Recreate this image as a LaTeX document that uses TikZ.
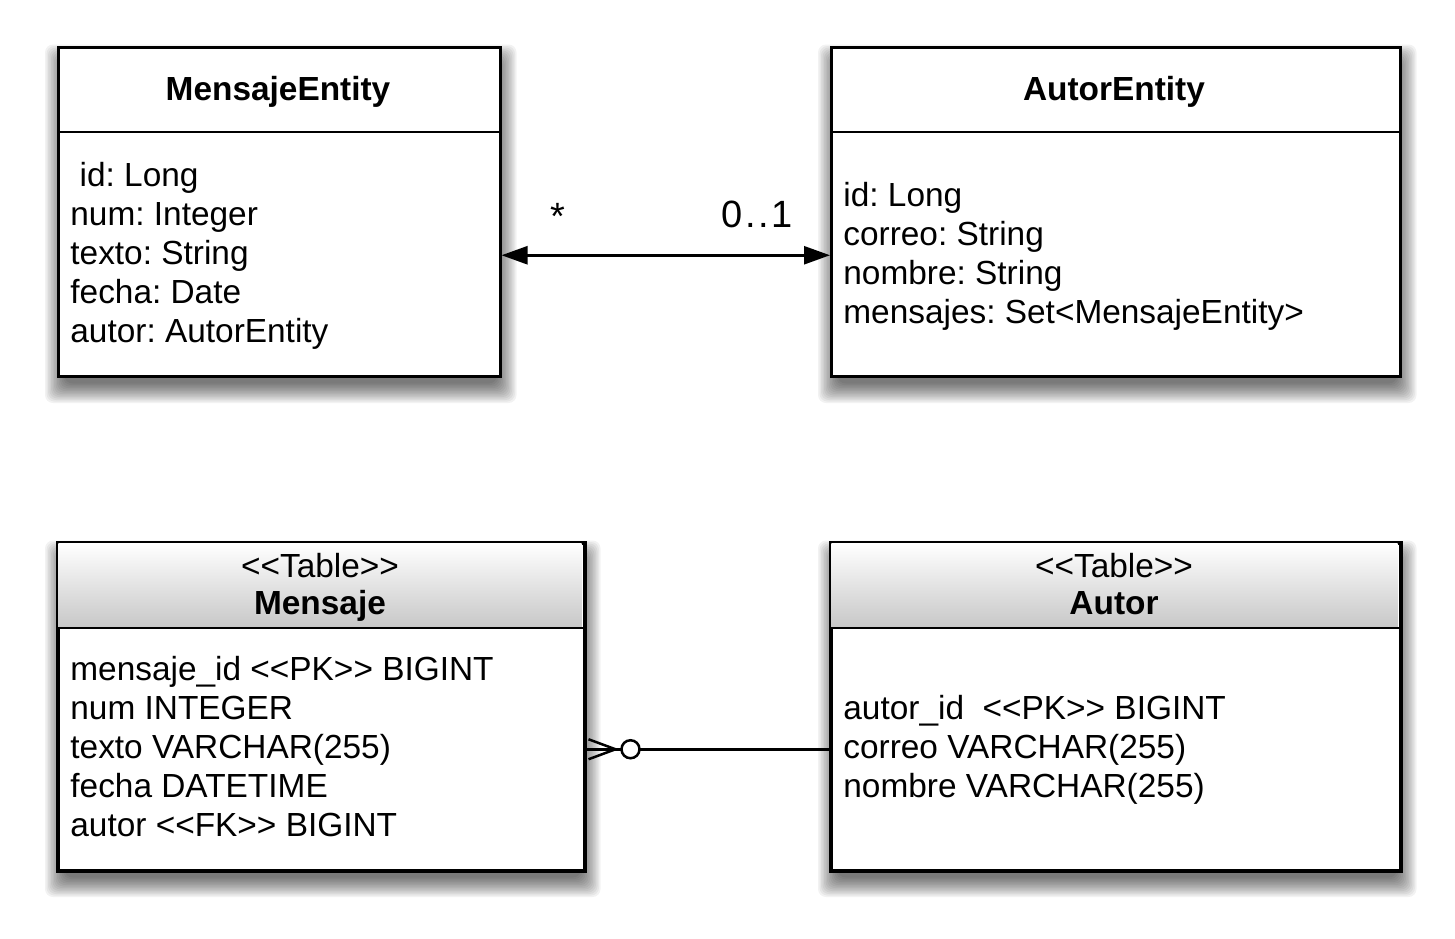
\documentclass[tikz,border=0pt]{standalone}
\usepackage{fontspec}
\newfontfamily\hv{Liberation Sans}
\usetikzlibrary{backgrounds,arrows.meta}
\newcommand\boxshadow[1]{%
  \begin{scope}[on background layer]
    \foreach \e in {-6,-4.5,...,13.6}{%
      \fill[black, opacity=0.05, rounded corners=4pt]
        ([shift={(1.5-\e,12-\e)}]#1.north west) rectangle ([shift={(1.5+\e,12+\e)}]#1.south east);
    }
  \end{scope}}
\begin{document}
\frenchspacing
\begin{tikzpicture}[x=0.5pt,y=-0.5pt,
  box/.style={draw=black, line width=1.25pt, fill=white, anchor=north west, inner sep=0pt},
  txt/.style={anchor=base west, inner sep=0pt, font=\hv\fontsize{16.7}{19}\selectfont},
  ttl/.style={anchor=base, inner sep=0pt, font=\hv\bfseries\fontsize{16.7}{19}\selectfont},
  ster/.style={anchor=base, inner sep=0pt, font=\hv\fontsize{16.7}{19}\selectfont},
  lbl/.style={anchor=base, inner sep=0pt, font=\hv\fontsize{19}{22}\selectfont},
  divider/.style={line width=1.25pt},
  conn/.style={line width=1.25pt},
  hdr/.style={top color=white, bottom color=black!22}
]
\useasboundingbox (0,0) rectangle (1455,938);

% ---------- MensajeEntity ----------
\node[box, minimum width=221pt, minimum height=164.5pt] (me) at (57,46) {};
\boxshadow{me}
\draw[divider] (57,132) -- (499,132);
\node[ttl] (meT) at (278,100) {MensajeEntity};
\node[txt] (me1) at (70,186) {\ id: Long};
\node[txt] (me2) at (70,225) {num: Integer};
\node[txt] (me3) at (70,264) {texto: String};
\node[txt] (me4) at (70,303) {fecha: Date};
\node[txt] (me5) at (70,342) {autor: AutorEntity};

% ---------- AutorEntity ----------
\node[box, minimum width=284.5pt, minimum height=164.5pt] (ae) at (830,46) {};
\boxshadow{ae}
\draw[divider] (830,132) -- (1399,132);
\node[ttl] (aeT) at (1114,100) {AutorEntity};
\node[txt] (ae1) at (843,206) {id: Long};
\node[txt] (ae2) at (843,245) {correo: String};
\node[txt] (ae3) at (843,284) {nombre: String};
\node[txt] (ae4) at (843,323) {mensajes: Set<MensajeEntity>};

% ---------- association ----------
\draw[conn, {Triangle[length=13pt,width=9pt]}-{Triangle[length=13pt,width=9pt]}]
  ([yshift=-21.75pt]me.east) -- ([yshift=-21.75pt]ae.west);
\node[lbl] (mult1) at (558,229) {*};
\node[lbl] (mult2) at (757,227) {0\kern1.3pt.\kern1.3pt.\kern1.3pt1};

% ---------- Mensaje table ----------
\node[box, minimum width=263pt, minimum height=163.5pt] (m) at (57,542) {};
\boxshadow{m}
\shade[hdr] (58.3,543.3) rectangle (581.7,628);
\draw[line width=1.25pt] (m.north west) rectangle (m.south east);
\draw[divider] (57,628) -- (583,628);
\node[ster] (mS) at (320,577) {<<Table>>};
\node[ttl] (mT) at (320,614) {Mensaje};
\node[txt] (m1) at (70,680) {mensaje\_id <<PK>> BIGINT};
\node[txt] (m2) at (70,719) {num INTEGER};
\node[txt] (m3) at (70,758) {texto VARCHAR(255)};
\node[txt] (m4) at (70,797) {fecha DATETIME};
\node[txt] (m5) at (70,836) {autor <<FK>> BIGINT};

% ---------- Autor table ----------
\node[box, minimum width=284.5pt, minimum height=163.5pt] (a) at (830,542) {};
\boxshadow{a}
\shade[hdr] (831.3,543.3) rectangle (1397.7,628);
\draw[line width=1.25pt] (a.north west) rectangle (a.south east);
\draw[divider] (830,628) -- (1399,628);
\node[ster] (aS) at (1114,577) {<<Table>>};
\node[ttl] (aT) at (1114,614) {Autor};
\node[txt] (a1) at (843,719) {autor\_id\ \ <<PK>> BIGINT};
\node[txt] (a2) at (843,758) {correo VARCHAR(255)};
\node[txt] (a3) at (843,797) {nombre VARCHAR(255)};

% ---------- relationship (crow's foot, zero-or-many) ----------
\coordinate (cfTip) at ([xshift=15pt,yshift=-21.25pt]m.east);
\coordinate (cfUp) at ([xshift=1.5pt,yshift=-16.25pt]m.east);
\coordinate (cfDn) at ([xshift=1.5pt,yshift=-26.25pt]m.east);
\draw[conn] ([yshift=-21.25pt]a.west) -- ([yshift=-21.25pt]m.east);
\draw[conn] (cfUp) -- (cfTip) -- (cfDn);
\node[circle, draw, line width=1.25pt, fill=white, minimum size=9pt, inner sep=0pt] (cfO)
  at ([xshift=22.5pt,yshift=-21.25pt]m.east) {};
\end{tikzpicture}
\end{document}
